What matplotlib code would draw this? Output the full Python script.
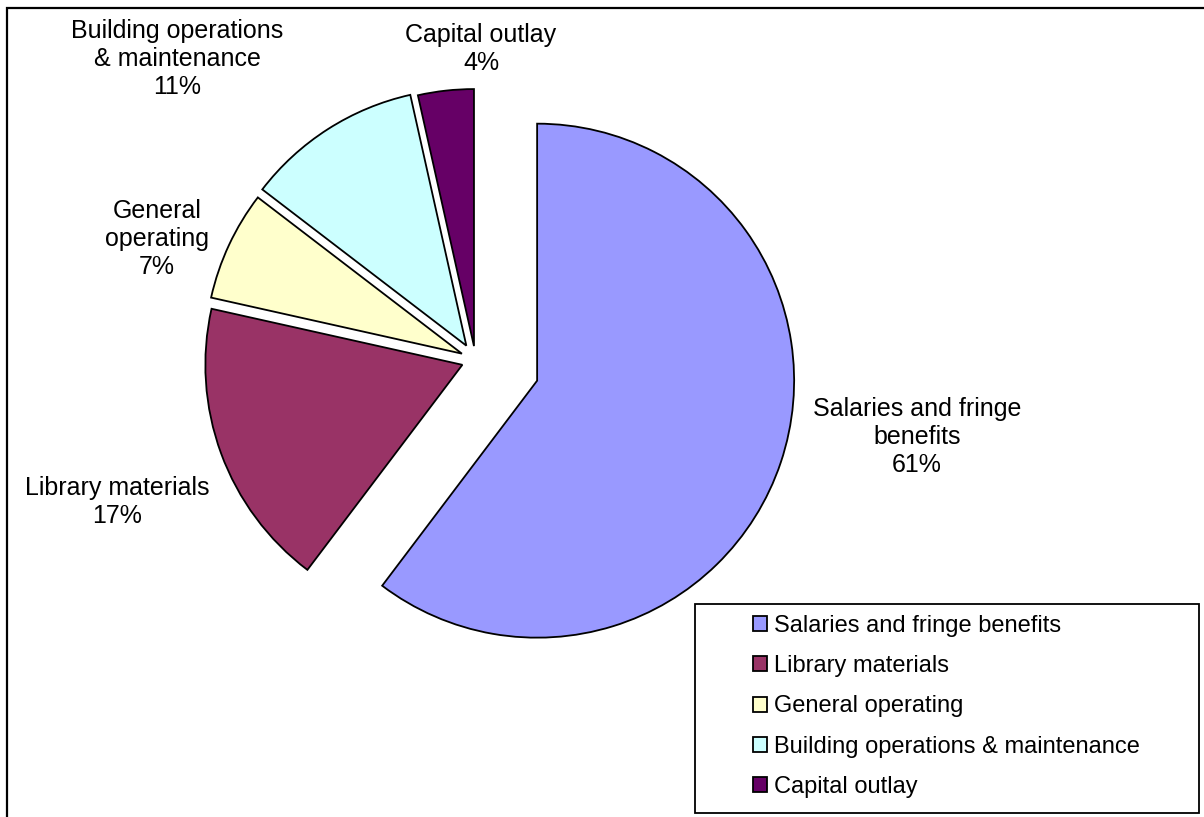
import matplotlib
matplotlib.use("Agg")
import matplotlib.pyplot as plt
from matplotlib.patches import Rectangle

categories = ["Salaries and fringe benefits", "Library materials", "General operating",
              "Building operations & maintenance", "Capital outlay"]
values = [60.3, 18.2, 6.9, 11.1, 3.5]
slice_labels = ["Salaries and fringe\nbenefits\n61%", "Library materials\n17%",
                "General\noperating\n7%", "Building operations\n& maintenance\n11%",
                "Capital outlay\n4%"]
colors = ["#9999FF", "#993366", "#FFFFCC", "#CCFFFF", "#660066"]

W, H = 1204, 817
plt.rcParams['font.family'] = ['Liberation Sans', 'DejaVu Sans']

fig = plt.figure(figsize=(W / 100, H / 100), dpi=100)
ax = fig.add_axes([0, 0, 1, 1])

def Y(y_img):
    return H - y_img

explode = [65, 14, 15, 17, 14]
wedges, _ = ax.pie(values, colors=colors, startangle=90, counterclock=False,
                   explode=explode, radius=257, center=(475.5, Y(360)),
                   wedgeprops=dict(edgecolor="black", linewidth=1.3))

ax.set_xlim(0, W)
ax.set_ylim(0, H)
ax.set_aspect("equal")
ax.axis("off")

# outer chart frame
ax.add_patch(Rectangle((7, Y(8) - 900), 1300, 900, fill=False, edgecolor="black",
                       linewidth=1.6, clip_on=False))

label_pos = [(917, 437), (117, 502), (157, 239), (177, 59), (481, 49)]
for (lx, ly), txt in zip(label_pos, slice_labels):
    ax.text(lx, Y(ly), txt, ha="center", va="center", fontsize=18,
            linespacing=1.2, color="black")

# legend box
ax.add_patch(Rectangle((695, Y(813)), 1199 - 695, 813 - 604, fill=False,
                       edgecolor="black", linewidth=1.3))
leg = ax.legend(wedges, categories, loc="upper left",
                bbox_to_anchor=(753 / W, 1 - 615 / H), frameon=False,
                fontsize=17, handlelength=0.6, handleheight=0.6,
                handletextpad=0.3, labelspacing=0.77, borderpad=0,
                borderaxespad=0)

fig.savefig("out.png", dpi=100)
